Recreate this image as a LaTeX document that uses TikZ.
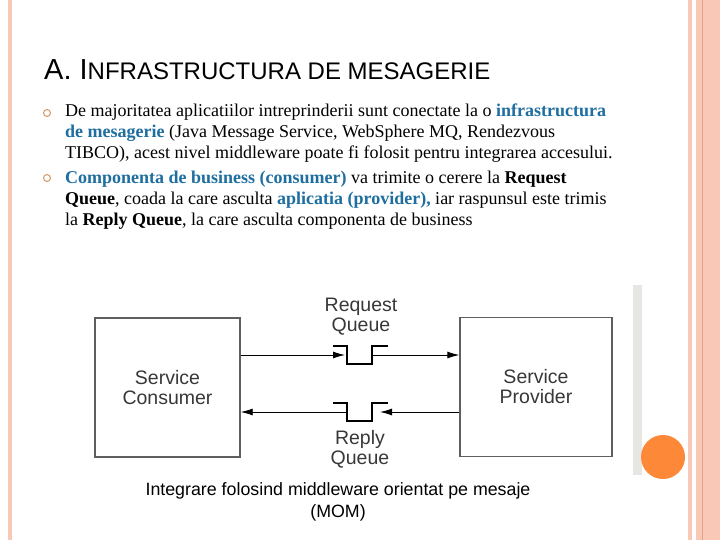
\documentclass[tikz,border=0pt]{standalone}
\usepackage{fontspec}
\setmainfont{Liberation Serif}
\setsansfont{Liberation Sans}
\usetikzlibrary{arrows.meta,positioning}
\definecolor{MsgBlue}{RGB}{30,110,160}
\definecolor{PeachLine}{RGB}{249,200,182}
\definecolor{PeachDark}{RGB}{228,160,130}
\definecolor{BulletTan}{RGB}{214,160,112}
\definecolor{BarGray}{RGB}{232,230,226}
\definecolor{DotOrange}{RGB}{252,136,56}
\definecolor{BoxGray}{RGB}{95,95,95}
\newcommand{\hlmsg}[1]{\textbf{\textcolor{MsgBlue}{#1}}}

\begin{document}
\begin{tikzpicture}[x=1pt,y=-1pt,
  svcbox/.style={draw=BoxGray,line width=1.4pt,minimum height=139pt,inner sep=0pt,
    font=\sffamily\fontsize{19.5}{20}\selectfont,text=black!78,align=center},
  qlabel/.style={font=\sffamily\fontsize{19.5}{20}\selectfont,text=black!78,align=center},
  qpipe/.style={line width=2.4pt,line join=miter},
  msg/.style={line width=0.9pt,-{Latex[length=12pt,width=7pt]}},
  bodytext/.style={anchor=north west,inner sep=0pt,align=left,font=\fontsize{18}{20.8}\selectfont},
  bulletmark/.style={circle,draw=BulletTan,line width=1.1pt,minimum size=7pt,inner sep=0pt}]
\useasboundingbox (0,0) rectangle (720,540);
\fill[white] (0,0) rectangle (720,540);
% slide frame
\fill[PeachLine] (8,0) rectangle (12,540);
\fill[PeachLine] (688,0) rectangle (692,540);
\fill[PeachLine] (696,0) rectangle (720,540);
\draw[PeachDark,line width=0.8pt] (702,0) -- (702,540);
\fill[BarGray] (633,285) rectangle (642,475);
\fill[DotOrange] (663,457) circle (22);

% title and bullets
\node[anchor=base west,inner sep=0pt,font=\sffamily] (title) at (44,80)
  {\fontsize{29}{30}\selectfont A. I\fontsize{24}{26}\selectfont NFRASTRUCTURA DE MESAGERIE};
\node[bulletmark] (bul1) at (47,113) {};
\node[bulletmark] (bul2) at (47,178) {};
\node[bodytext] (txt1) at (65,104)
  {De majoritatea aplicatiilor intreprinderii sunt conectate la o \hlmsg{infrastructura}\\
   \hlmsg{de mesagerie} (Java Message Service, WebSphere MQ, Rendezvous\\
   TIBCO), acest nivel middleware poate fi folosit pentru integrarea accesului.};
\node[bodytext] (txt2) at (65,171)
  {\hlmsg{Componenta de business (consumer)} va trimite o cerere la \textbf{Request}\\
   \textbf{Queue}, coada la care asculta \hlmsg{aplicatia (provider),} iar raspunsul este trimis\\
   la \textbf{Reply Queue}, la care asculta componenta de business};

% diagram
\node[svcbox,minimum width=145pt] (consumer) at (167.5,387.5) {Service\\Consumer};
\node[svcbox,minimum width=152pt] (provider) at (536,387) {Service\\Provider};
\foreach \q/\yy in {reqq/355,repq/412}{
  \coordinate (\q) at (360,\yy);
  \draw[qpipe] ([shift={(-27,-9)}]\q) -| ([shift={(-13,9)}]\q) -| ([shift={(12,-9)}]\q) -- ++(16,0);
}
\node[qlabel] (reqlbl) at (361,317) {Request\\Queue};
\node[qlabel] (replbl) at (360,449) {Reply\\Queue};
\draw[msg] (consumer.east |- reqq) -- ([xshift=-15pt]reqq);
\draw[msg] ([xshift=13pt]reqq) -- (provider.west |- reqq);
\draw[msg] (provider.west |- repq) -- ([xshift=20pt]repq);
\draw[msg] ([xshift=-13pt]repq) -- (consumer.east |- repq);

\node[font=\sffamily\fontsize{17.8}{22}\selectfont,align=center] (caption) at (338,502)
  {Integrare folosind middleware orientat pe mesaje\\(MOM)};
\end{tikzpicture}
\end{document}
